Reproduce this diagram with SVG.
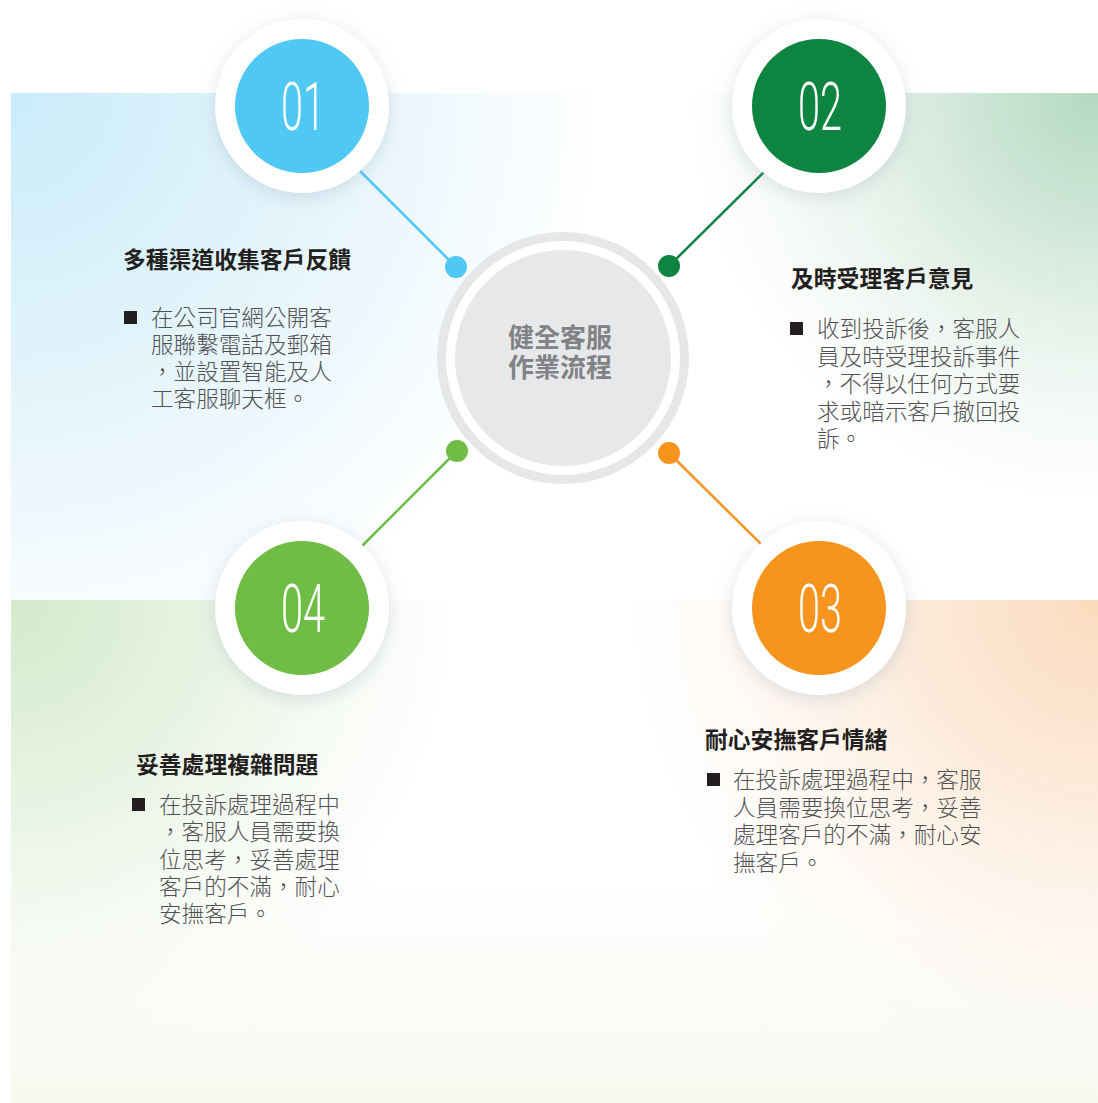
<svg xmlns="http://www.w3.org/2000/svg" width="1098" height="1103" viewBox="0 0 1098 1103">
<defs>
<radialGradient id="gTL" gradientUnits="userSpaceOnUse" cx="11" cy="93" r="600">
<stop offset="0" stop-color="#c9ecfa"/><stop offset="0.5" stop-color="#e4f4fb"/><stop offset="1" stop-color="#e4f4fb" stop-opacity="0"/>
</radialGradient>
<radialGradient id="gTR" gradientUnits="userSpaceOnUse" cx="1098" cy="93" r="420">
<stop offset="0" stop-color="#b3d9c2"/><stop offset="0.45" stop-color="#dcede2"/><stop offset="1" stop-color="#eef6f0" stop-opacity="0"/>
</radialGradient>
<radialGradient id="gBL" gradientUnits="userSpaceOnUse" cx="11" cy="600" r="460">
<stop offset="0" stop-color="#d3eacb"/><stop offset="0.5" stop-color="#ebf5e6"/><stop offset="1" stop-color="#f4f9f1" stop-opacity="0"/>
</radialGradient>
<radialGradient id="gBR" gradientUnits="userSpaceOnUse" cx="1098" cy="600" r="480">
<stop offset="0" stop-color="#fbdbbd"/><stop offset="0.5" stop-color="#fdefe2"/><stop offset="1" stop-color="#fef7f0" stop-opacity="0"/>
</radialGradient>
<linearGradient id="gBot" x1="0" y1="0" x2="0" y2="1">
<stop offset="0" stop-color="#f8faf2" stop-opacity="0"/><stop offset="1" stop-color="#f7f9f0"/>
</linearGradient>
<filter id="sh" x="-30%" y="-30%" width="160%" height="160%">
<feDropShadow dx="0" dy="4" stdDeviation="9" flood-color="#8396ab" flood-opacity="0.28"/>
</filter>
<style>
.num{font-family:Roboto,"Liberation Sans",sans-serif;font-weight:300;font-size:66px;fill:#ffffff;text-anchor:middle}
.hd{font-family:"Noto Sans CJK TC","Noto Sans CJK SC",sans-serif;font-weight:700;font-size:22.8px;fill:#231f20}
.bd{font-family:"Noto Sans CJK TC","Noto Sans CJK SC",sans-serif;font-weight:300;font-size:22.6px;fill:#515153}
.bul{fill:#231f20}
.ctr{font-family:"Noto Sans CJK TC","Noto Sans CJK SC",sans-serif;font-weight:700;font-size:26px;fill:#808285;text-anchor:middle}
.ln{stroke-width:2.5;fill:none}
.ring{fill:#ffffff;filter:url(#sh)}
</style>
</defs>
<rect x="0" y="0" width="1098" height="1103" fill="#ffffff"/>
<g id="background">
<rect x="11" y="93" width="1087" height="507" fill="#ffffff"/>
<rect x="11" y="93" width="1087" height="507" fill="url(#gTL)"/>
<rect x="11" y="93" width="1087" height="507" fill="url(#gTR)"/>
<rect x="11" y="600" width="1087" height="503" fill="#ffffff"/>
<rect x="11" y="860" width="1087" height="243" fill="url(#gBot)"/>
<rect x="11" y="600" width="1087" height="503" fill="url(#gBL)"/>
<rect x="11" y="600" width="1087" height="503" fill="url(#gBR)"/>
</g>
<g id="connectors">
<line class="ln" x1="360" y1="171" x2="456" y2="267" stroke="#4fc9f4"/>
<circle cx="456" cy="267" r="11" fill="#4fc9f4"/>
<line class="ln" x1="765" y1="171" x2="669" y2="266" stroke="#0d8440"/>
<circle cx="669" cy="266" r="11" fill="#0d8440"/>
<line class="ln" x1="360" y1="548" x2="457" y2="451" stroke="#6fbd44"/>
<circle cx="457" cy="451" r="11" fill="#6fbd44"/>
<line class="ln" x1="765" y1="548" x2="669" y2="453" stroke="#f7941e"/>
<circle cx="669" cy="453" r="11" fill="#f7941e"/>
</g>
<g id="center">
<circle cx="563" cy="358" r="121.5" fill="#ffffff" stroke="#e6e7e8" stroke-width="9"/>
<circle cx="563" cy="358" r="108" fill="#e7e8ea"/>
<text class="ctr" x="560" y="347">健全客服<tspan x="560" dy="30">作業流程</tspan></text>
</g>
<g id="node01">
<circle class="ring" cx="302" cy="106" r="87"/>
<circle cx="302" cy="106" r="67" fill="#4fc9f4"/>
<text class="num" transform="translate(303,130) scale(0.6,1)" x="0" y="0">01</text>
</g>
<g id="node02">
<circle class="ring" cx="819" cy="106" r="87"/>
<circle cx="819" cy="106" r="67" fill="#0d8440"/>
<text class="num" transform="translate(820,130) scale(0.6,1)" x="0" y="0">02</text>
</g>
<g id="node03">
<circle class="ring" cx="819" cy="608" r="87"/>
<circle cx="819" cy="608" r="67" fill="#f7941e"/>
<text class="num" transform="translate(820,632) scale(0.6,1)" x="0" y="0">03</text>
</g>
<g id="node04">
<circle class="ring" cx="302" cy="608" r="87"/>
<circle cx="302" cy="608" r="67" fill="#6fbd44"/>
<text class="num" transform="translate(303,632) scale(0.6,1)" x="0" y="0">04</text>
</g>
<g id="text01">
<text class="hd" x="123" y="268">多種渠道收集客戶反饋</text>
<rect class="bul" x="124" y="311" width="13" height="13"/>
<text class="bd" x="151" y="326">在公司官網公開客<tspan x="151" dy="27">服聯繫電話及郵箱</tspan><tspan x="151" dy="27">，並設置智能及人</tspan><tspan x="151" dy="27">工客服聊天框。</tspan></text>
</g>
<g id="text02">
<text class="hd" x="791" y="287">及時受理客戶意見</text>
<rect class="bul" x="790" y="322" width="13" height="13"/>
<text class="bd" x="817" y="337">收到投訴後，客服人<tspan x="817" dy="27.5">員及時受理投訴事件</tspan><tspan x="817" dy="27.5">，不得以任何方式要</tspan><tspan x="817" dy="27.5">求或暗示客戶撤回投</tspan><tspan x="817" dy="27.5">訴。</tspan></text>
</g>
<g id="text03">
<text class="hd" x="705" y="748">耐心安撫客戶情緒</text>
<rect class="bul" x="707" y="773" width="13" height="13"/>
<text class="bd" x="733" y="788">在投訴處理過程中，客服<tspan x="733" dy="27.5">人員需要換位思考，妥善</tspan><tspan x="733" dy="27.5">處理客戶的不滿，耐心安</tspan><tspan x="733" dy="27.5">撫客戶。</tspan></text>
</g>
<g id="text04">
<text class="hd" x="136" y="773">妥善處理複雜問題</text>
<rect class="bul" x="132" y="798" width="13" height="13"/>
<text class="bd" x="159" y="813">在投訴處理過程中<tspan x="159" dy="27.3">，客服人員需要換</tspan><tspan x="159" dy="27.3">位思考，妥善處理</tspan><tspan x="159" dy="27.3">客戶的不滿，耐心</tspan><tspan x="159" dy="27.3">安撫客戶。</tspan></text>
</g>
</svg>
